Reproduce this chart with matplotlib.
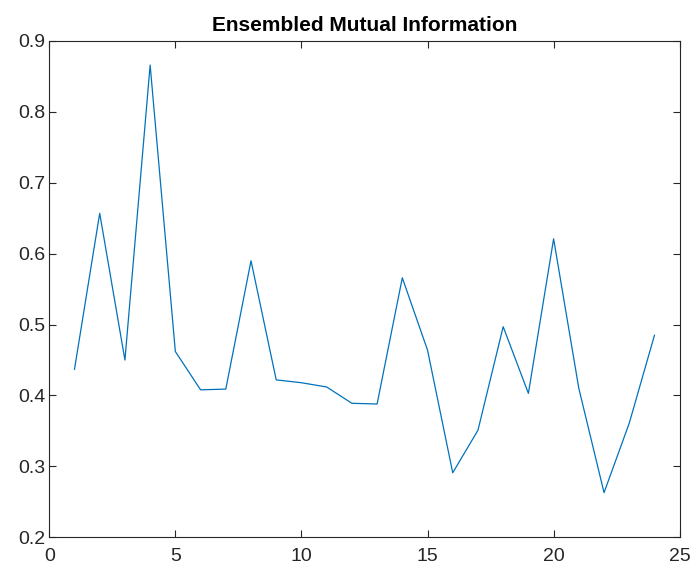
import matplotlib
matplotlib.use("Agg")
import matplotlib.pyplot as plt

plt.rcParams['font.family'] = ['Liberation Sans', 'DejaVu Sans']

# mutual information per ensemble member
member = list(range(1, 25))
mi = [0.437, 0.657, 0.450, 0.866, 0.462, 0.408, 0.409, 0.590,
      0.422, 0.418, 0.412, 0.389, 0.388, 0.566, 0.464, 0.291,
      0.351, 0.497, 0.403, 0.621, 0.410, 0.263, 0.361, 0.485]

xticks = [0, 5, 10, 15, 20, 25]
yticks = [0.2, 0.3, 0.4, 0.5, 0.6, 0.7, 0.8, 0.9]

fig = plt.figure(figsize=(6.93, 5.67), dpi=100)
ax = fig.add_axes([0.0711, 0.0524, 0.9097, 0.8753])

ax.plot(member, mi, color='#0072BD', lw=0.9)

ax.set_xlim(0, 25)
ax.set_ylim(0.2, 0.9)
ax.set_xticks(xticks)
ax.set_yticks(yticks)
ax.set_xticklabels([str(t) for t in xticks])
ax.set_yticklabels(['%.1f' % t for t in yticks])

axcol = '#262626'
for s in ax.spines.values():
    s.set_color(axcol)
    s.set_linewidth(0.8)
ax.tick_params(direction='in', length=5, width=0.8, color=axcol,
               labelcolor=axcol, labelsize=14, top=True, right=True)
ax.tick_params(axis='x', pad=8)
ax.tick_params(axis='y', pad=3)

ax.set_title('Ensembled Mutual Information', fontsize=15, fontweight='bold',
             color='black', pad=7)

fig.savefig('out.png', dpi=100)
